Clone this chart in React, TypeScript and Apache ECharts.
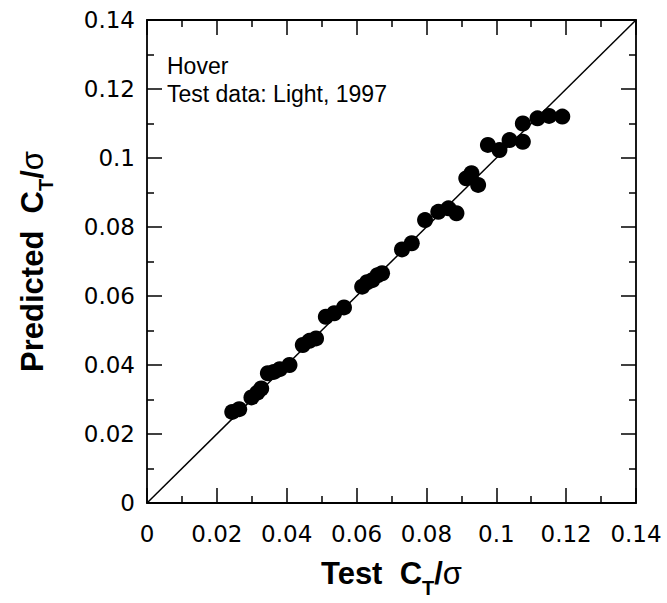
import React, { useEffect, useRef } from 'react';
import * as echarts from 'echarts';

const testCT = [
  0.0244, 0.0264, 0.0299, 0.0316, 0.0327, 0.0346, 0.0363, 0.038, 0.0408, 0.0446,
  0.0465, 0.0484, 0.0512, 0.0536, 0.0564, 0.0616, 0.063, 0.0645, 0.066, 0.0673,
  0.073, 0.0758, 0.0796, 0.0834, 0.0863, 0.0886, 0.0914, 0.0929, 0.0948, 0.0976,
  0.1009, 0.1038, 0.1076, 0.1076, 0.1118, 0.1151, 0.1189,
];
const predictedCT = [
  0.0264, 0.0272, 0.0306, 0.032, 0.0332, 0.0376, 0.038, 0.0388, 0.04, 0.0458,
  0.047, 0.0477, 0.054, 0.055, 0.0567, 0.0627, 0.064, 0.0646, 0.066, 0.0666,
  0.0735, 0.0753, 0.082, 0.0844, 0.0854, 0.084, 0.0941, 0.0956, 0.0922, 0.1038,
  0.1023, 0.1052, 0.1047, 0.11, 0.1115, 0.1122, 0.112,
];
const diagonal = [0, 0.14];
const tickLabels = ['0', '0.02', '0.04', '0.06', '0.08', '0.1', '0.12', '0.14'];
const noteLines = ['Hover', 'Test data: Light, 1997'];

export default function App() {
  const ref = useRef<HTMLDivElement>(null);
  useEffect(() => {
    document.body.style.margin = '0';
    const chart = echarts.init(ref.current!, null, { renderer: 'svg' });
    const fmt = (v: number) => tickLabels[Math.round(v / 0.02)] ?? '';
    const base = {
      type: 'value',
      min: 0,
      max: 0.14,
      interval: 0.02,
      axisLine: { show: true, onZero: false, lineStyle: { color: '#000', width: 1.8 } },
      axisTick: { show: true, inside: true, length: 15, lineStyle: { color: '#000', width: 1.5 } },
      minorTick: { show: true, splitNumber: 2, length: 7, lineStyle: { color: '#000', width: 1.5 } },
      splitLine: { show: false },
    };
    const tickFont = { color: '#000', fontFamily: 'DejaVu Sans', fontSize: 23 };
    const nameStyle = {
      color: '#000',
      fontFamily: 'Liberation Sans',
      fontWeight: 'bold',
      fontSize: 31,
      lineHeight: 48,
      rich: {
        s: { fontFamily: 'Liberation Sans', fontWeight: 'bold', fontSize: 20, lineHeight: 20, verticalAlign: 'bottom', color: '#000' },
        g: { fontFamily: 'Liberation Sans', fontWeight: 'normal', fontSize: 31, lineHeight: 48, color: '#000' },
      },
    };
    chart.setOption({
      animation: false,
      backgroundColor: '#fff',
      grid: { left: 141, right: 31, top: 20, bottom: 100 },
      xAxis: [
        {
          ...base,
          position: 'bottom',
          axisLabel: { ...tickFont, margin: 19, formatter: fmt },
          name: 'Test  C{s|T}/{g|σ}',
          nameLocation: 'middle',
          nameGap: 46,
          nameTextStyle: nameStyle,
        },
        {
          ...base,
          position: 'top',
          axisLabel: { show: false },
        },
      ],
      yAxis: [
        {
          ...base,
          position: 'left',
          axisLabel: { ...tickFont, margin: 12, formatter: fmt },
          name: 'Predicted  C{s|T}/{g|σ}',
          nameLocation: 'middle',
          nameGap: 91,
          nameTextStyle: nameStyle,
        },
        {
          ...base,
          position: 'right',
          axisLabel: { show: false },
        },
      ],
      graphic: [
        {
          type: 'text',
          left: 167,
          top: 54,
          style: { text: noteLines[0], fontFamily: 'Liberation Sans', fontSize: 23, fill: '#000' },
        },
        {
          type: 'text',
          left: 167,
          top: 82,
          style: { text: noteLines[1], fontFamily: 'Liberation Sans', fontSize: 23, fill: '#000' },
        },
      ],
      series: [
        {
          type: 'line',
          data: diagonal.map((v) => [v, v]),
          symbol: 'none',
          lineStyle: { color: '#000', width: 1.5 },
          silent: true,
        },
        {
          type: 'scatter',
          data: testCT.map((x, i) => [x, predictedCT[i]]),
          symbol: 'circle',
          symbolSize: 16,
          itemStyle: { color: '#000', opacity: 1 },
        },
      ],
    });
    return () => chart.dispose();
  }, []);
  return <div ref={ref} style={{ width: 667, height: 603 }} />;
}
